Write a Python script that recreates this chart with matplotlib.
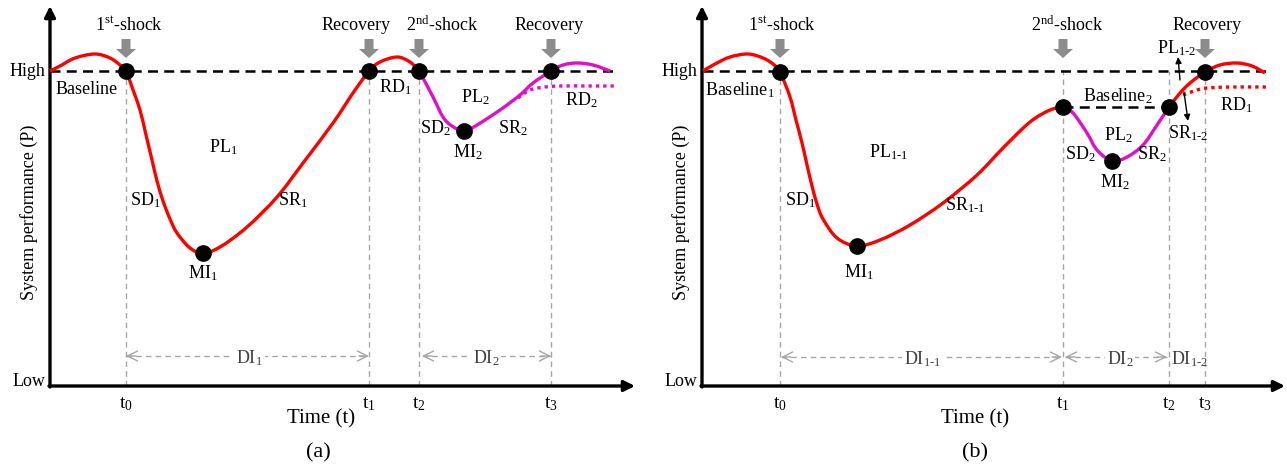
import numpy as np
import matplotlib
matplotlib.use("Agg")
import matplotlib.pyplot as plt
from matplotlib.path import Path
from matplotlib.patches import PathPatch, FancyArrow

plt.rcParams["font.family"] = ["Liberation Serif", "DejaVu Serif"]
plt.rcParams["mathtext.fontset"] = "custom"
plt.rcParams["mathtext.rm"] = "Liberation Serif"
plt.rcParams["mathtext.it"] = "Liberation Serif:italic"

HIGH = 315  # performance level of the baseline

# ---- panel (a): single curve, two shocks ----
a_red_t = [0, 10, 25, 45, 60, 70, 76, 83, 90, 96, 102, 107, 113, 120, 127, 140, 153,
           170, 197, 227, 253, 283, 303, 319, 330, 347, 360, 369]
a_red_p = [315, 320, 328, 332, 328, 321, 315, 296, 276, 251, 226, 205, 185, 167, 153, 138, 133,
           139, 159, 189, 223, 263, 293, 315, 324, 329, 324, 315]
a_mag_t = [369, 373, 383, 393, 402, 414, 427, 450, 470, 483, 501, 513, 527, 543, 560]
a_mag_p = [315, 308, 289, 269, 260, 255, 261, 276, 291, 303, 315, 321, 323, 321, 315]
a_dot_t = [468, 480, 495, 510, 540, 567]
a_dot_p = [288, 296, 299, 300, 300, 300]
a_key_t = [76, 153, 319, 369, 414, 501]
a_key_p = [315, 133, 315, 315, 255, 315]
a_ticks = [76, 319, 369, 501]
a_shocks = [76, 319, 369, 501]
a_shock_labels = ["1$^{\\mathrm{st}}$-shock", "Recovery", "2$^{\\mathrm{nd}}$-shock", "Recovery"]
a_shock_label_t = [79, 306, 392, 499]

# ---- panel (b): second shock before full recovery ----
b_red_t = [1, 13, 28, 46, 61, 71, 78, 88, 94, 100, 105, 110, 115, 121, 135, 155,
           178, 208, 241, 275, 301, 328, 348, 361]
b_red_p = [315, 322, 329, 332, 328, 322, 314, 289, 266, 243, 221, 200, 182, 167, 148, 140,
           146, 161, 183, 211, 238, 264, 276, 279]
b_mag_t = [361, 371, 385, 395, 410, 425, 441, 455, 467]
b_mag_p = [279, 273, 253, 236, 225, 229, 241, 261, 279]
b_red2_t = [467, 478, 488, 503, 518, 535, 550, 563]
b_red2_p = [279, 293, 303, 314, 321, 323, 320, 313]
b_dot_t = [481, 495, 505, 528, 566]
b_dot_p = [291, 296, 298, 299, 299]
b_key_t = [78, 155, 361, 410, 467, 503]
b_key_p = [314, 140, 279, 225, 279, 314]
b_ticks = [78, 361, 467, 503]
b_shocks = [78, 361, 503]
b_shock_labels = ["1$^{\\mathrm{st}}$-shock", "2$^{\\mathrm{nd}}$-shock", "Recovery"]
b_shock_label_t = [80, 365, 505]

RED = "#ff0000"
MAG = "#e010c8"
GRAY = "#a6a6a6"
ARROW_GRAY = "#8c8c8c"


def smooth(t, p):
    pts = np.column_stack([t, p]).astype(float)
    verts = [pts[0]]
    codes = [Path.MOVETO]
    n = len(pts)
    for i in range(n - 1):
        p0 = pts[i - 1] if i > 0 else pts[i]
        p1, p2 = pts[i], pts[i + 1]
        p3 = pts[i + 2] if i + 2 < n else pts[i + 1]
        verts += [p1 + (p2 - p0) / 6, p2 - (p3 - p1) / 6, p2]
        codes += [Path.CURVE4] * 3
    return Path(verts, codes)


def curve(ax, t, p, color, dotted=False):
    ls = (0, (1, 1.2)) if dotted else "-"
    ax.add_patch(PathPatch(smooth(t, p), fill=False, edgecolor=color, lw=2.4,
                           linestyle=ls, capstyle="butt", zorder=3))


def frame(ax, xmax, fs=13):
    ax.set_axis_off()
    ax.annotate("", xy=(0, 380), xytext=(0, -1),
                arrowprops=dict(arrowstyle="-|>", lw=2.4, color="k", mutation_scale=16,
                                shrinkA=0, shrinkB=0))
    ax.annotate("", xy=(xmax, 0), xytext=(-1, 0),
                arrowprops=dict(arrowstyle="-|>", lw=2.4, color="k", mutation_scale=16,
                                shrinkA=0, shrinkB=0))
    ax.text(-5, HIGH, "High", ha="right", va="center", fontsize=fs)
    ax.text(-5, 5, "Low", ha="right", va="center", fontsize=fs)
    ax.text(-21, 174, "System performance (P)", rotation=90, ha="center", va="center",
            fontsize=13)


def vlines(ax, ts, tops):
    for t, top in zip(ts, tops):
        ax.plot([t, t], [0, top], color=GRAY, lw=1, ls=(0, (4, 3)), zorder=1)


def tick_labels(ax, ts, names):
    for t, s in zip(ts, names):
        ax.text(t, -18, s, ha="center", va="center", fontsize=14)


def block_arrows(ax, ts):
    for t in ts:
        ax.add_patch(FancyArrow(t, 347, 0, -19, width=9, head_width=20, head_length=9,
                                length_includes_head=True, color=ARROW_GRAY, lw=0, zorder=4))


def span_arrow(ax, t0, t1, y, label=None, lt=None):
    ax.plot([t0, t1], [y, y], color=GRAY, lw=1, ls=(0, (4, 3)), zorder=1)
    for a, b in [(t0, t0 + 10), (t1, t1 - 10)]:
        ax.annotate("", xy=(a, y), xytext=(b, y),
                    arrowprops=dict(arrowstyle="->", color=GRAY, lw=1, mutation_scale=18,
                                    shrinkA=0, shrinkB=0))
    if label:
        ax.text(lt, y - 2, label, ha="center", va="center", fontsize=13, color="#404040",
                bbox=dict(facecolor="white", edgecolor="none", pad=1.5), zorder=2)


def labels(ax, items):
    for t, p, s in items:
        ax.text(t, p, s, ha="center", va="center", fontsize=13, zorder=5)


fig = plt.figure(figsize=(12.87, 4.68), dpi=100)

# ---------------- (a) ----------------
ax = fig.add_axes([0, 0, 0.5, 1])
ax.set_xlim(-50, 593.5)
ax.set_ylim(-82, 386)
frame(ax, 585)
ax.plot([0, 567], [HIGH, HIGH], color="k", lw=1.8, ls=(0, (4, 2.5)), zorder=2)
vlines(ax, a_ticks, [HIGH] * 4)
curve(ax, a_red_t, a_red_p, RED)
curve(ax, a_mag_t, a_mag_p, MAG)
curve(ax, a_dot_t, a_dot_p, MAG, dotted=True)
ax.plot(a_key_t, a_key_p, "o", color="k", ms=11, zorder=6)
block_arrows(ax, a_shocks)
for t, s in zip(a_shock_label_t, a_shock_labels):
    ax.text(t, 361, s, ha="center", va="center", fontsize=13)
labels(ax, [(37, 297, "Baseline"), (173, 239, "PL$_1$"), (95, 186, "SD$_1$"),
            (243, 186, "SR$_1$"), (153, 113, "MI$_1$"), (345, 299, "RD$_1$"),
            (425, 289, "PL$_2$"), (385, 258, "SD$_2$"), (418, 234, "MI$_2$"),
            (463, 258, "SR$_2$"), (531, 286, "RD$_2$")])
span_arrow(ax, 76, 319, 30, "DI$_1$", 199)
span_arrow(ax, 372, 501, 30, "DI$_2$", 436)
tick_labels(ax, a_ticks, ["t$_0$", "t$_1$", "t$_2$", "t$_3$"])
ax.text(271, -33, "Time (t)", ha="center", va="center", fontsize=15)
ax.text(268, -67, "(a)", ha="center", va="center", fontsize=16)

# ---------------- (b) ----------------
ax = fig.add_axes([0.5, 0, 0.5, 1])
ax.set_xlim(-58.5, 585)
ax.set_ylim(-82, 386)
frame(ax, 583)
ax.plot([1, 568], [HIGH, HIGH], color="k", lw=1.8, ls=(0, (4, 2.5)), zorder=2)
ax.plot([361, 467], [279, 279], color="k", lw=1.8, ls=(0, (4, 2.5)), zorder=2)
vlines(ax, b_ticks, [HIGH] * 4)
curve(ax, b_red_t, b_red_p, RED)
curve(ax, b_mag_t, b_mag_p, MAG)
curve(ax, b_red2_t, b_red2_p, RED)
curve(ax, b_dot_t, b_dot_p, RED, dotted=True)
ax.plot(b_key_t, b_key_p, "o", color="k", ms=11, zorder=6)
block_arrows(ax, b_shocks)
for t, s in zip(b_shock_label_t, b_shock_labels):
    ax.text(t, 361, s, ha="center", va="center", fontsize=13)
labels(ax, [(38, 296, "Baseline$_1$"), (187, 234, "PL$_{\\text{1-1}}$"), (98, 186, "SD$_1$"),
            (263, 181, "SR$_{\\text{1-1}}$"), (157, 114, "MI$_1$"),
            (416, 290, "Baseline$_2$"), (416, 251, "PL$_2$"), (378, 232, "SD$_2$"),
            (450, 232, "SR$_2$"), (413, 204, "MI$_2$"), (475, 338, "PL$_{\\text{1-2}}$"),
            (486, 253, "SR$_{\\text{1-2}}$"), (534, 281, "RD$_1$")])
ax.annotate("", xy=(476, 329), xytext=(478, 306),
            arrowprops=dict(arrowstyle="-|>", color="k", lw=1, mutation_scale=9,
                            shrinkA=0, shrinkB=0))
ax.annotate("", xy=(486, 265), xytext=(482, 294),
            arrowprops=dict(arrowstyle="-|>", color="k", lw=1, mutation_scale=9,
                            shrinkA=0, shrinkB=0))
span_arrow(ax, 79, 360, 29, "DI$_{\\text{1-1}}$", 221)
span_arrow(ax, 363, 465, 29, "DI$_2$", 418)
ax.text(488, 27, "DI$_{\\text{1-2}}$", ha="center", va="center", fontsize=13, color="#404040")
tick_labels(ax, b_ticks, ["t$_0$", "t$_1$", "t$_2$", "t$_3$"])
ax.text(273, -33, "Time (t)", ha="center", va="center", fontsize=15)
ax.text(273, -67, "(b)", ha="center", va="center", fontsize=16)

fig.savefig("out.png", dpi=100, facecolor="white")
